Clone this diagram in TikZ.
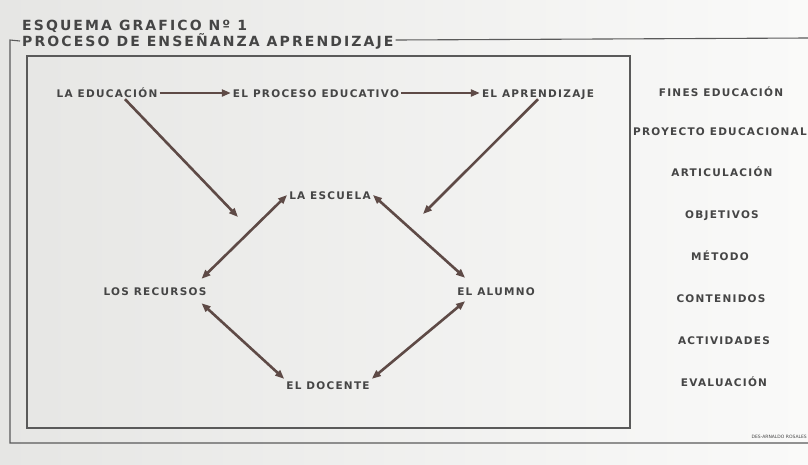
\documentclass[tikz,border=0pt]{standalone}
\usepackage{fontspec}
\setmainfont{DejaVu Sans}
\newfontfamily\labfont{DejaVu Sans Bold}[LetterSpace=12]
\newfontfamily\titfont{DejaVu Sans Bold}[LetterSpace=15]
\usetikzlibrary{arrows.meta,calc}
\definecolor{paperL}{HTML}{E6E6E4}
\definecolor{paperR}{HTML}{FAFAF9}
\definecolor{ink}{HTML}{454545}
\definecolor{arrowc}{HTML}{5E4A46}
\definecolor{framec}{HTML}{5A5A5A}
\begin{document}
\begin{tikzpicture}[x=1pt,y=-1pt,
  lab/.style={font=\labfont\fontsize{10.5}{10.5}\selectfont, text=ink, inner sep=2pt, text height=8pt, text depth=0pt},
  tit/.style={font=\titfont\fontsize{14}{14}\selectfont, text=ink, inner sep=0pt, anchor=west},
  arr/.style={draw=arrowc, line width=2.6pt, -{Triangle[length=9pt,width=7pt]}},
  darr/.style={draw=arrowc, line width=2.6pt, {Triangle[length=9pt,width=7pt]}-{Triangle[length=9pt,width=7pt]}},
  framel/.style={draw=framec, line width=1.1pt}]
\useasboundingbox (0,0) rectangle (808,464);
\shade[left color=paperL, right color=paperR] (0,0) rectangle (808,464);

% title
\node[tit] (t1) at (22,26) {ESQUEMA GRAFICO Nº 1};
\node[tit] (t2) at (22,41) {PROCESO DE ENSEÑANZA APRENDIZAJE};
% outer frame
\coordinate (oTL) at (10,40);
\coordinate (oBL) at (10,443);
\coordinate (oBR) at (808,443);
\coordinate (oTR) at (808,38);
\draw[framel] ($(t2.west)+(-2,0)$) -- (oTL) -- (oBL) -- (oBR);
\draw[framel] ($(t2.east)+(2,-1)$) -- (oTR);
% inner frame
\node[draw=framec, line width=1.1pt, minimum width=603pt, minimum height=372pt, inner sep=0pt] (inner) at (328.5,242) {};

% nodes
\node[lab] (edu) at (107,93) {LA EDUCACIÓN};
\node[lab] (proc) at (316,93) {EL PROCESO EDUCATIVO};
\node[lab] (apr) at (538,93) {EL APRENDIZAJE};
\node[lab] (esc) at (330,195) {LA ESCUELA};
\node[lab] (rec) at (155,291) {LOS RECURSOS};
\node[lab] (alu) at (496,291) {EL ALUMNO};
\node[lab] (doc) at (328,385) {EL DOCENTE};

% right column
\node[lab] (f1) at (721,92) {FINES EDUCACIÓN};
\node[lab] (f2) at (720,131) {PROYECTO EDUCACIONAL};
\node[lab] (f3) at (722,172) {ARTICULACIÓN};
\node[lab] (f4) at (722,214) {OBJETIVOS};
\node[lab] (f5) at (720,256) {MÉTODO};
\node[lab] (f6) at (721,298) {CONTENIDOS};
\node[lab] (f7) at (724,340) {ACTIVIDADES};
\node[lab] (f8) at (724,382) {EVALUACIÓN};

% footer
\node[font=\fontsize{4.5}{4.5}\selectfont, text=ink, inner sep=0pt, anchor=east] (sig) at (807,437) {DES-ARNALDO ROSALES};

% connectors
\coordinate (a1) at (238,217);
\coordinate (a2) at (423,214);
\draw[arr] (edu.east) -- (proc.west);
\draw[arr] (proc.east) -- (apr.west);
\draw[arr] ([xshift=18pt]edu.south) -- (a1);
\draw[arr] (apr.south) -- (a2);
\draw[darr] (esc.west) -- ($(rec.north east)+(-7,-6)$);
\draw[darr] (esc.east) -- ($(alu.north west)+(10,-7)$);
\draw[darr] ($(rec.south east)+(-7,6)$) -- (doc.north west);
\draw[darr] ($(alu.south west)+(10,4)$) -- (doc.north east);
\end{tikzpicture}
\end{document}
